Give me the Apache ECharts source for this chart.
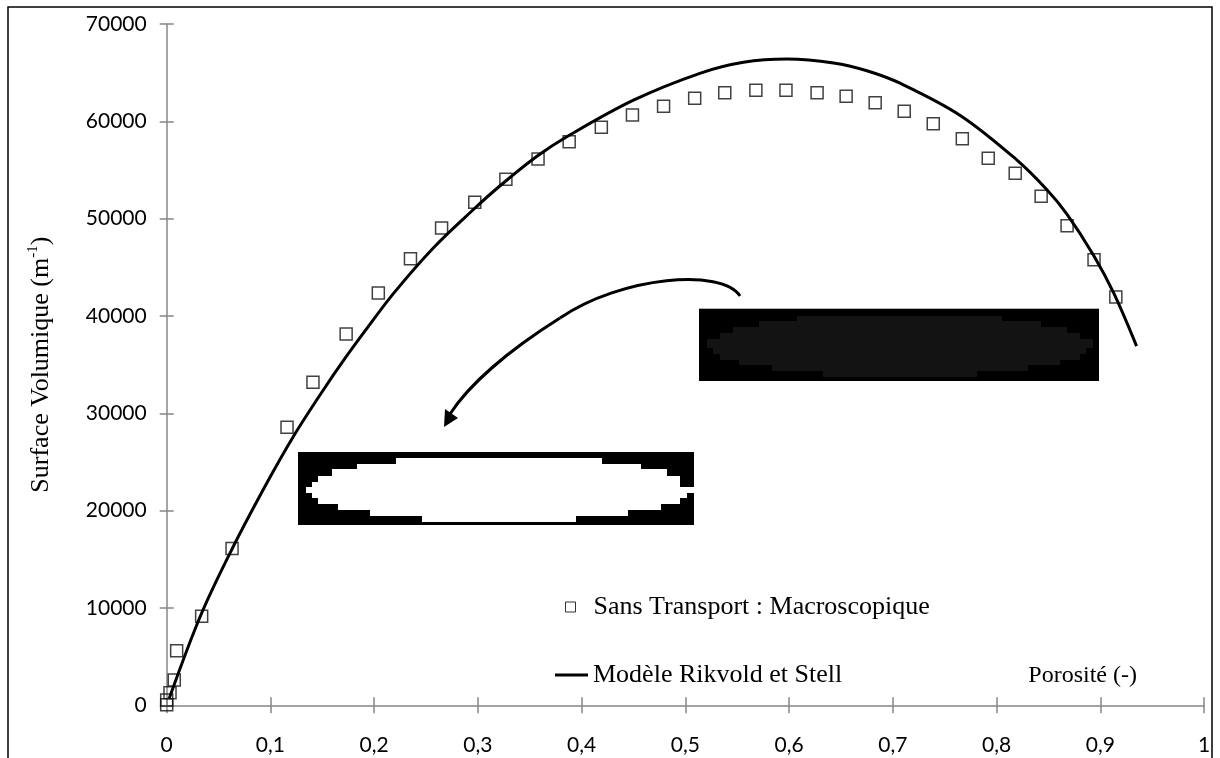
<!DOCTYPE html>
<html>
<head>
<meta charset="utf-8">
<script src="https://cdn.jsdelivr.net/npm/echarts@6/dist/echarts.min.js"></script>
<style>
  html, body { margin: 0; padding: 0; background: #ffffff; }
  #chart { width: 1220px; height: 758px; }
</style>
</head>
<body>
<div id="chart"></div>
<script>
// ---- Data ----
const seriesScatterName = 'Sans Transport : Macroscopique';
const seriesLineName = 'Modèle Rikvold et Stell';
const xAxisTitle = 'Porosité (-)';
const yAxisTitle = 'Surface Volumique (m{sup|-1})';

// Scatter: porosity (x) and surface (y)
const scatterX = [0, 0, 0.0032, 0.0073, 0.0096, 0.0337, 0.063, 0.116, 0.141, 0.173,
  0.204, 0.235, 0.265, 0.297, 0.327, 0.358, 0.388, 0.419, 0.449, 0.479,
  0.509, 0.538, 0.568, 0.597, 0.627, 0.655, 0.683, 0.711, 0.739, 0.767,
  0.792, 0.818, 0.843, 0.868, 0.894, 0.915];
const scatterY = [50, 550, 1300, 2600, 5600, 9150, 16100, 28560, 33190, 38150,
  42360, 45890, 49040, 51680, 54040, 56130, 57910, 59390, 60650, 61540,
  62370, 62940, 63190, 63190, 62940, 62570, 61910, 61030, 59760, 58210,
  56200, 54660, 52300, 49280, 45780, 41950];

// Model curve
const modelX = [0.0025, 0.033, 0.063, 0.0964, 0.122, 0.151, 0.172, 0.193, 0.2185, 0.257,
  0.2957, 0.3214, 0.3566, 0.3857, 0.45, 0.514, 0.556, 0.598, 0.643, 0.675,
  0.707, 0.765, 0.8197, 0.8486, 0.868, 0.8935, 0.913, 0.935];
const modelY = [720, 9300, 16060, 22810, 27600, 32400, 35660, 38720, 42300, 46990,
  50940, 53380, 56380, 58410, 62170, 64930, 66060, 66400, 66000, 65200,
  63920, 60610, 56020, 52970, 50440, 46240, 42340, 36900];

// Axis ticks
const xMin = 0, xMax = 1, xStep = 0.1;
const yMin = 0, yMax = 70000, yStep = 10000;

// ---- Build chart ----
const scatterData = scatterX.map((x, i) => [x, scatterY[i]]);
const modelData = modelX.map((x, i) => [x, modelY[i]]);

const AXIS_GRAY = '#878787';
const SERIF = "'Liberation Serif', 'Times New Roman', serif";
const SANS = "Lato, 'Liberation Sans', sans-serif";

// stepped (pixelated) ellipse outline from horizontal bands [y0, y1, xLeft, xRight]
function bandsToPolygon(bands, fill) {
  const pts = [];
  bands.forEach(b => { pts.push([b[2], b[0]]); pts.push([b[2], b[1]]); });
  for (let i = bands.length - 1; i >= 0; i--) {
    const b = bands[i];
    pts.push([b[3], b[1]]); pts.push([b[3], b[0]]);
  }
  return { type: 'polygon', silent: true, shape: { points: pts }, style: { fill: fill } };
}

// decorative insets (pictures in the original)
const inset1Bands = [
  [316, 321, 797, 1002], [321, 327, 759, 1041], [327, 333, 733, 1067],
  [333, 339, 720, 1080], [339, 348, 707, 1093], [348, 354, 713, 1086],
  [354, 360, 720, 1080], [360, 365, 739, 1060], [365, 371, 772, 1028],
  [371, 377, 823, 977]
];
const inset2Bands = [
  [458, 464, 396, 602], [464, 469, 357, 641], [469, 476, 332, 667],
  [476, 482, 318, 680], [482, 487, 312, 680], [487, 493, 306, 694],
  [493, 498, 312, 687], [498, 504, 318, 680], [504, 510, 338, 661],
  [510, 516, 370, 628], [516, 522, 422, 576]
];

const graphics = [
  { type: 'rect', shape: { x: 8, y: 7, width: 1204, height: 800 },
    style: { fill: 'none', stroke: '#000', lineWidth: 1.5 }, silent: true, z: 0 },
  // inset 1 (dark)
  { type: 'rect', shape: { x: 699, y: 309, width: 400, height: 72 }, style: { fill: '#000' }, silent: true },
  { type: 'line', shape: { x1: 699, y1: 308.5, x2: 1099, y2: 308.5 }, style: { stroke: '#b0b0b0', lineWidth: 1 }, silent: true },
  bandsToPolygon(inset1Bands, '#131313'),
  // inset 2 (white ellipse)
  { type: 'rect', shape: { x: 298, y: 452, width: 396, height: 73 }, style: { fill: '#000' }, silent: true },
  bandsToPolygon(inset2Bands, '#ffffff'),
  // curved arrow
  { type: 'bezierCurve', silent: true,
    shape: { x1: 740, y1: 296, cpx1: 722, cpy1: 268, cpx2: 622, cpy2: 276, x2: 560, y2: 318 },
    style: { fill: 'none', stroke: '#000', lineWidth: 3 } },
  { type: 'bezierCurve', silent: true,
    shape: { x1: 560, y1: 318, cpx1: 506, cpy1: 352, cpx2: 468, cpy2: 386, x2: 450, y2: 414 },
    style: { fill: 'none', stroke: '#000', lineWidth: 3 } },
  { type: 'polygon', silent: true,
    shape: { points: [[444, 427], [445, 409], [458, 418]] },
    style: { fill: '#000' } }
];

const chart = echarts.init(document.getElementById('chart'), null, { renderer: 'canvas' });

const commonX = { type: 'value', min: xMin, max: xMax, interval: xStep, gridIndex: 0 };
const commonY = { type: 'value', min: yMin, max: yMax, interval: yStep, gridIndex: 0 };

chart.setOption({
  animation: false,
  backgroundColor: '#ffffff',
  grid: { left: 166.7, right: 16, top: 24, bottom: 52.7, containLabel: false },
  xAxis: [
    Object.assign({}, commonX, {
      position: 'bottom',
      name: xAxisTitle,
      nameLocation: 'end',
      nameGap: -67,
      nameTextStyle: { fontFamily: SERIF, fontSize: 24, color: '#000', align: 'right',
        verticalAlign: 'bottom', padding: [0, 0, 18, 0] },
      axisLine: { show: true, lineStyle: { color: AXIS_GRAY, width: 1.5 } },
      axisTick: { show: true, inside: false, length: 8, lineStyle: { color: AXIS_GRAY, width: 1.5 } },
      axisLabel: { show: true, margin: 29, fontFamily: SANS, fontSize: 21, color: '#000',
        formatter: v => (Math.round(v * 10) / 10).toString().replace('.', ',') },
      splitLine: { show: false }
    }),
    Object.assign({}, commonX, {
      position: 'bottom',
      axisLine: { show: false },
      axisTick: { show: true, inside: true, length: 8, lineStyle: { color: AXIS_GRAY, width: 1.5 } },
      axisLabel: { show: false },
      splitLine: { show: false }
    })
  ],
  yAxis: [
    Object.assign({}, commonY, {
      position: 'left',
      name: yAxisTitle,
      nameLocation: 'middle',
      nameGap: 111,
      nameRotate: 90,
      nameTextStyle: { fontFamily: SERIF, fontSize: 26, color: '#000', lineHeight: 30,
        rich: { sup: { fontFamily: SERIF, fontSize: 15, color: '#000', verticalAlign: 'top', lineHeight: 16 } } },
      axisLine: { show: true, lineStyle: { color: AXIS_GRAY, width: 1.5 } },
      axisTick: { show: true, inside: false, length: 7, lineStyle: { color: AXIS_GRAY, width: 1.5 } },
      axisLabel: { show: true, margin: 20, fontFamily: SANS, fontSize: 21, color: '#000',
        formatter: v => String(v) },
      splitLine: { show: false }
    }),
    Object.assign({}, commonY, {
      position: 'left',
      axisLine: { show: false },
      axisTick: { show: true, inside: true, length: 7, lineStyle: { color: AXIS_GRAY, width: 1.5 } },
      axisLabel: { show: false },
      splitLine: { show: false }
    })
  ],
  legend: [
    {
      data: [seriesScatterName], left: 565, top: 592, orient: 'vertical', padding: 0,
      itemWidth: 10, itemHeight: 10, icon: 'rect',
      itemStyle: { color: 'transparent', borderColor: '#000', borderWidth: 1 },
      textStyle: { fontFamily: SERIF, fontSize: 26, color: '#000', lineHeight: 30, padding: [0, 0, 0, 13] },
      selectedMode: false
    },
    {
      data: [seriesLineName], left: 555, top: 660, orient: 'vertical', padding: 0,
      itemWidth: 33, itemHeight: 3, icon: 'rect',
      itemStyle: { color: '#000', borderWidth: 0 },
      textStyle: { fontFamily: SERIF, fontSize: 26, color: '#000', lineHeight: 30 },
      selectedMode: false
    }
  ],
  graphic: graphics,
  series: [
    {
      name: seriesScatterName,
      type: 'scatter',
      xAxisIndex: 0, yAxisIndex: 0,
      symbol: 'rect',
      symbolSize: 12,
      itemStyle: { color: 'transparent', borderColor: '#111', borderWidth: 1.5 },
      data: scatterData,
      z: 3
    },
    {
      name: seriesLineName,
      type: 'line',
      xAxisIndex: 0, yAxisIndex: 0,
      smooth: 0.35,
      symbol: 'none',
      showSymbol: false,
      lineStyle: { color: '#000', width: 3 },
      itemStyle: { color: '#000' },
      data: modelData,
      z: 4
    }
  ]
});
</script>
</body>
</html>
